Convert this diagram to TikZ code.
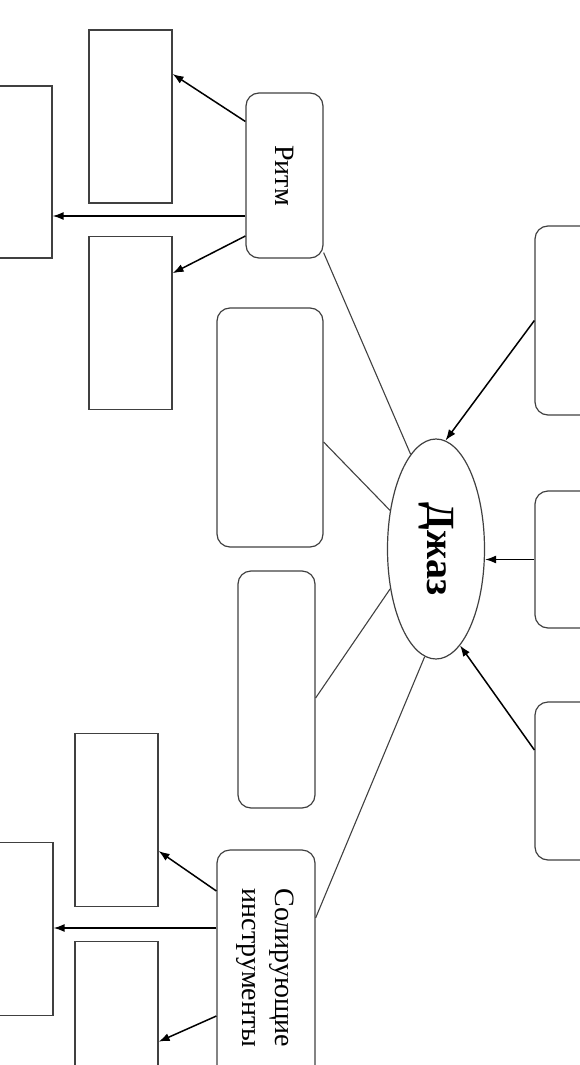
\documentclass[tikz,border=0pt]{standalone}
\usepackage{fontspec}
\setmainfont{Liberation Serif}
\usetikzlibrary{positioning,shapes.geometric,arrows.meta}
\tikzset{block/.style={draw=black!75,line width=1.2pt,minimum width=83pt,minimum height=173pt,inner sep=0pt,font=\fontsize{28}{33}\selectfont}}
\tikzset{rblock/.style={block,rounded corners=13pt}}
\tikzset{link/.style={draw=black!75,line width=1.1pt}}
\tikzset{arr/.style={->,line width=1.5pt}}
\tikzset{>={Latex[length=11pt,width=8pt]}}

\begin{document}
\begin{tikzpicture}[x=1pt,y=1pt]
    \useasboundingbox (0,0) rectangle (579,-1065);

    \node (J) [draw=black!75,line width=1.2pt,ellipse,minimum width=97pt,minimum height=220pt,inner sep=0pt,font=\bfseries\fontsize{40}{46}\selectfont] at (436,-549) {\rotatebox{-90}{Джаз}};

    \node (R) [rblock,minimum width=77pt,minimum height=165pt] at (284.5,-175.5) {\rotatebox{-90}{Ритм}};
    \node (A1) [block] at (130.5,-116.5) {};
    \node (A2) [block,below=32pt of A1] {};
    \node (L1) [block,minimum width=82pt,minimum height=172pt] at (11,-172) {};

    \node (B1) [rblock,minimum width=106pt,minimum height=239pt] at (270,-427.5) {};
    \node (B2) [rblock,minimum width=77pt,minimum height=237pt] at (276.5,-689.5) {};

    \node (R1) [rblock,minimum width=95pt,minimum height=189pt] at (582.5,-320.5) {};
    \node (R2) [rblock,minimum width=95pt,minimum height=137pt] at (582.5,-559.5) {};
    \node (R3) [rblock,minimum width=95pt,minimum height=158pt] at (582.5,-781) {};

    \node (SI) [rblock,minimum width=98pt,minimum height=236pt] at (266,-968) {\rotatebox{-90}{\begin{tabular}{@{}c@{}}Солирующие\\инструменты\end{tabular}}};
    \node (C1) [block] at (116.5,-820) {};
    \node (C2) [block,below=34pt of C1] {};
    \node (L2) [block] at (11.5,-929) {};

    \draw [arr] ([yshift=54pt]R.west) -- ([yshift=42.5pt]A1.east);
    \coordinate (r2) at ([yshift=-40.5pt]R.west);
    \draw [arr] (r2) -- (r2 -| L1.east);
    \draw [arr] ([yshift=-60.5pt]R.west) -- ([yshift=49.5pt]A2.east);

    \draw [link] ([yshift=6pt]R.south east) -- (J.105);
    \draw [link] ([yshift=-14.5pt]B1.east) -- (J.140);
    \draw [link] ([yshift=-8.5pt]B2.east) -- (J.221);
    \draw [link] ([yshift=50pt]SI.east) -- (J.264);

    \draw [arr] (R1.west) -- (J.85);
    \draw [arr] (R2.west) -- (R2.west -| J.east);
    \draw [arr] ([yshift=31pt]R3.west) -- (J.284);

    \draw [arr] ([yshift=77pt]SI.west) -- ([yshift=-31pt]C1.east);
    \coordinate (s2) at ([yshift=40pt]SI.west);
    \draw [arr] (s2) -- (s2 -| L2.east);
    \draw [arr] ([yshift=-48pt]SI.west) -- ([yshift=-13.5pt]C2.east);
\end{tikzpicture}
\end{document}
